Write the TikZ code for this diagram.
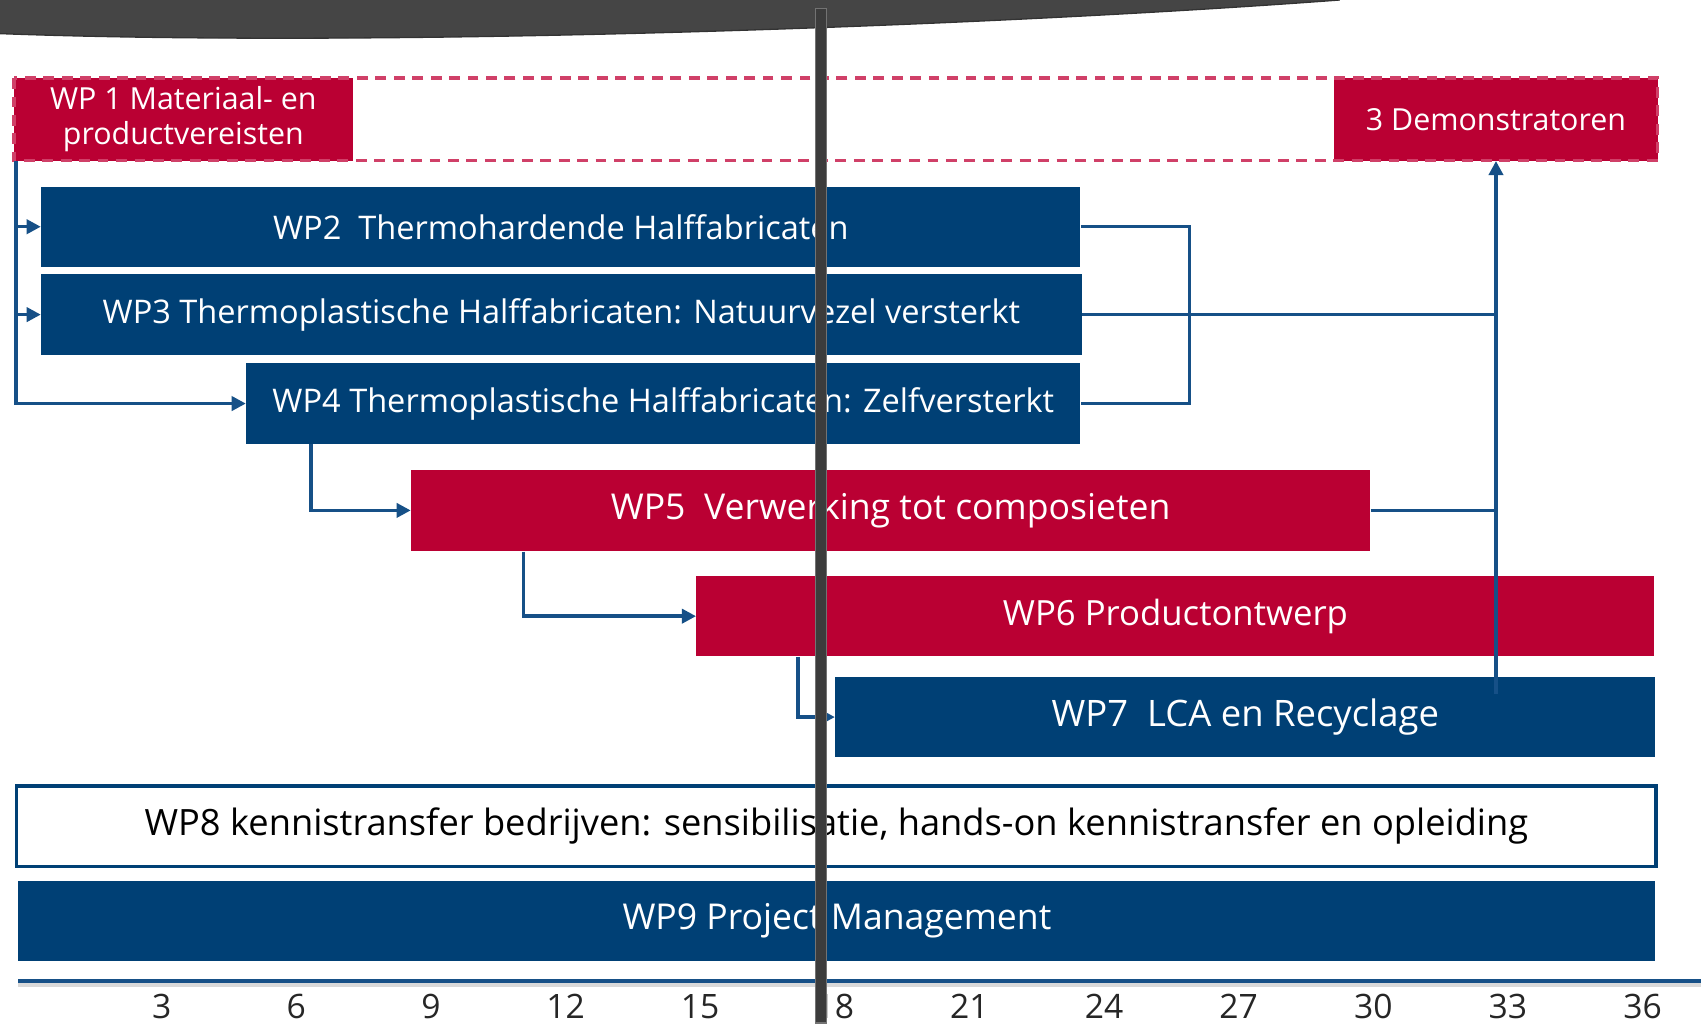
\documentclass[tikz,border=0pt]{standalone}
\usepackage{fontspec}
\setmainfont{Open Sans}
\usetikzlibrary{arrows.meta,calc}
\definecolor{wpblue}{RGB}{0,64,117}
\definecolor{wpred}{RGB}{186,0,51}
\definecolor{dashred}{RGB}{208,64,104}
\definecolor{linkblue}{RGB}{22,80,135}
\definecolor{bandgray}{RGB}{69,69,69}
\definecolor{bargray}{RGB}{60,60,60}
\begin{document}
\begin{tikzpicture}[x=0.5pt,y=-0.5pt,
  wpbox/.style={rectangle,inner sep=0pt,text=white,font=\fontsize{15}{18}\selectfont},
  bigtext/.style={font=\fontsize{16.4}{19}\selectfont},
  bluebox/.style={wpbox,fill=wpblue},
  redbox/.style={wpbox,fill=wpred},
  link/.style={draw=linkblue,line width=1.6pt},
  arrowlink/.style={link,-{Triangle[length=6.5pt,width=6.5pt]}},
  frame/.style={draw=dashred,line width=1.5pt,dash pattern=on 5pt off 3.5pt},
  month/.style={font=\fontsize{15.5}{18}\selectfont,text=black!85,inner sep=0pt}]
\useasboundingbox (0,0) rectangle (1568,947);
\fill[white] (0,0) rectangle (1568,947);

% dark header band with curved lower edge
\fill[bandgray] (0,0) -- (1235,0) .. controls (900,25) and (350,44) .. (0,31) -- cycle;
\draw[black!80,line width=0.6pt] (1235,0) .. controls (900,25) and (350,44) .. (0,31);

% work package bars
\node[redbox,minimum width=156pt,minimum height=38pt,align=center,
      font=\fontsize{14}{16}\selectfont] (wp1) at (169,110)
      {WP 1 Materiaal- en\\productvereisten};
\node[redbox,minimum width=149pt,minimum height=38pt,
      font=\fontsize{14}{16}\selectfont] (demo) at (1379,110) {3 Demonstratoren};
\draw[frame] (13,72) rectangle (1528,148);

\node[bluebox,minimum width=479pt,minimum height=37pt] (wp2) at (517,209)
      {WP2\ \ Thermohardende Halffabricaten};
\node[bluebox,minimum width=479.5pt,minimum height=37pt] (wp3) at (517.5,290)
      {WP3 Thermoplastische Halffabricaten: Natuurvezel versterkt};
\node[bluebox,minimum width=384.5pt,minimum height=37pt] (wp4) at (611.5,372)
      {WP4 Thermoplastische Halffabricaten: Zelfversterkt};
\node[redbox,bigtext,minimum width=442pt,minimum height=37.5pt] (wp5) at (821,470.5)
      {WP5\ \ Verwerking tot composieten};
\node[redbox,font=\fontsize{16}{19}\selectfont,minimum width=441.5pt,minimum height=37pt] (wp6) at (1083.5,568)
      {WP6 Productontwerp};
\node[bluebox,font=\fontsize{16.8}{19}\selectfont,minimum width=378pt,minimum height=37pt] (wp7) at (1148,661)
      {WP7\ \ LCA en Recyclage};
\node[wpbox,font=\fontsize{16.7}{19}\selectfont,draw=wpblue,fill=white,line width=1.5pt,text=black,
      minimum width=755.5pt,minimum height=37pt] (wp8) at (771,761.5)
      {WP8 kennistransfer bedrijven: sensibilisatie, hands-on kennistransfer en opleiding};
\node[bluebox,bigtext,minimum width=754.5pt,minimum height=37pt] (wp9) at (771.5,849)
      {WP9 Project Management};

% dependencies on the left
\coordinate (bus) at ($(wp1.south west)+(2,0)$);
\draw[arrowlink] (bus) |- (wp4.west);
\draw[arrowlink] (bus |- wp2.west) -- (wp2.west);
\draw[arrowlink] (bus |- wp3.west) -- (wp3.west);
\coordinate (from4) at ($(wp4.south west)+(60,0)$);
\draw[arrowlink] (from4) |- (wp5.west);
\coordinate (from5) at ($(wp5.south west)+(104,0)$);
\draw[arrowlink] (from5) |- (wp6.west);
\coordinate (from6) at ($(wp6.south west)+(94,0)$);
\draw[arrowlink] (from6) |- (wp7.west);

% bracket joining WP2 and WP4
\coordinate (brk) at ($(wp2.east)+(100,0)$);
\draw[link] (wp2.east) -- (brk) |- (wp4.east);

% collector towards the demonstrators
\coordinate (colend) at ($(wp7.north)+(0,16)$);
\coordinate (colbase) at (demo.south |- colend);
\draw[link] (wp3.east) -- (wp3.east -| demo.south);
\draw[link] (wp5.east) -- (wp5.east -| demo.south);
\draw[arrowlink] (colbase) -- (demo.south);

% time axis in months
\draw[black!15,line width=1.5pt] (17,908) -- (1568,908);
\draw[linkblue,line width=2pt] (17,904) -- (1568,904);
\foreach \m [count=\i from 0] in {3,6,...,36}
  \node[month] (m\m) at (149+124.1*\i,928) {\m};

% vertical marker bar
\filldraw[fill=bargray,draw=black!55,line width=0.6pt] (752,8) rectangle (762,943);
\end{tikzpicture}
\end{document}
